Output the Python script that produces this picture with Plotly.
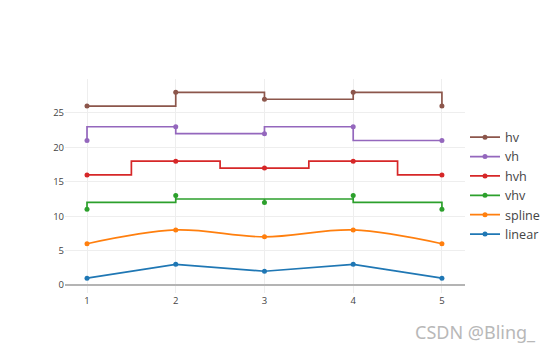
import plotly.graph_objects as go

x_values = [1, 2, 3, 4, 5]
linear_y = [1, 3, 2, 3, 1]
spline_y = [6, 8, 7, 8, 6]
vhv_y = [11, 13, 12, 13, 11]
hvh_y = [16, 18, 17, 18, 16]
vh_y = [21, 23, 22, 23, 21]
hv_y = [26, 28, 27, 28, 26]

series = [
    ("linear", linear_y, "linear"),
    ("spline", spline_y, "spline"),
    ("vhv", vhv_y, "vhv"),
    ("hvh", hvh_y, "hvh"),
    ("vh", vh_y, "vh"),
    ("hv", hv_y, "hv"),
]
colors = ["#1f77b4", "#ff7f0e", "#2ca02c", "#d62728", "#9467bd", "#8c564b"]

fig = go.Figure()
for (name, ys, shape), c in zip(series, colors):
    fig.add_trace(go.Scatter(
        x=x_values, y=ys, name=name, mode="lines+markers",
        line=dict(shape=shape, color=c, width=1.7),
        marker=dict(size=5, color=c),
    ))

fig.update_layout(
    template="none",
    width=554, height=356,
    margin=dict(l=57, r=97, t=71, b=71, autoexpand=False),
    paper_bgcolor="white", plot_bgcolor="white",
    font=dict(family="Open Sans, Noto Sans, sans-serif", color="#444"),
    legend=dict(y=0.5, yanchor="middle", x=1.0, xanchor="left",
                traceorder="reversed",
                font=dict(size=12.6, color="#444")),
    xaxis=dict(range=[0.752, 5.26], tickvals=x_values, showgrid=True,
               gridcolor="#eee", zeroline=False, showline=False,
               ticks="", tickfont=dict(size=9.5)),
    yaxis=dict(range=[-1.16, 29.94], tickvals=[0, 5, 10, 15, 20, 25],
               showgrid=True, gridcolor="#eee", zeroline=True,
               zerolinecolor="#b4b4b4", zerolinewidth=2, showline=False,
               ticks="", tickfont=dict(size=9.5)),
    showlegend=True,
)

fig.add_annotation(
    text="CSDN @Bling_", xref="paper", yref="paper",
    x=1.1825, y=-0.18, xanchor="right", yanchor="middle", showarrow=False,
    font=dict(family="Noto Sans, sans-serif", size=18, color="#b8b8b8"),
)

fig.write_html("out.html")
